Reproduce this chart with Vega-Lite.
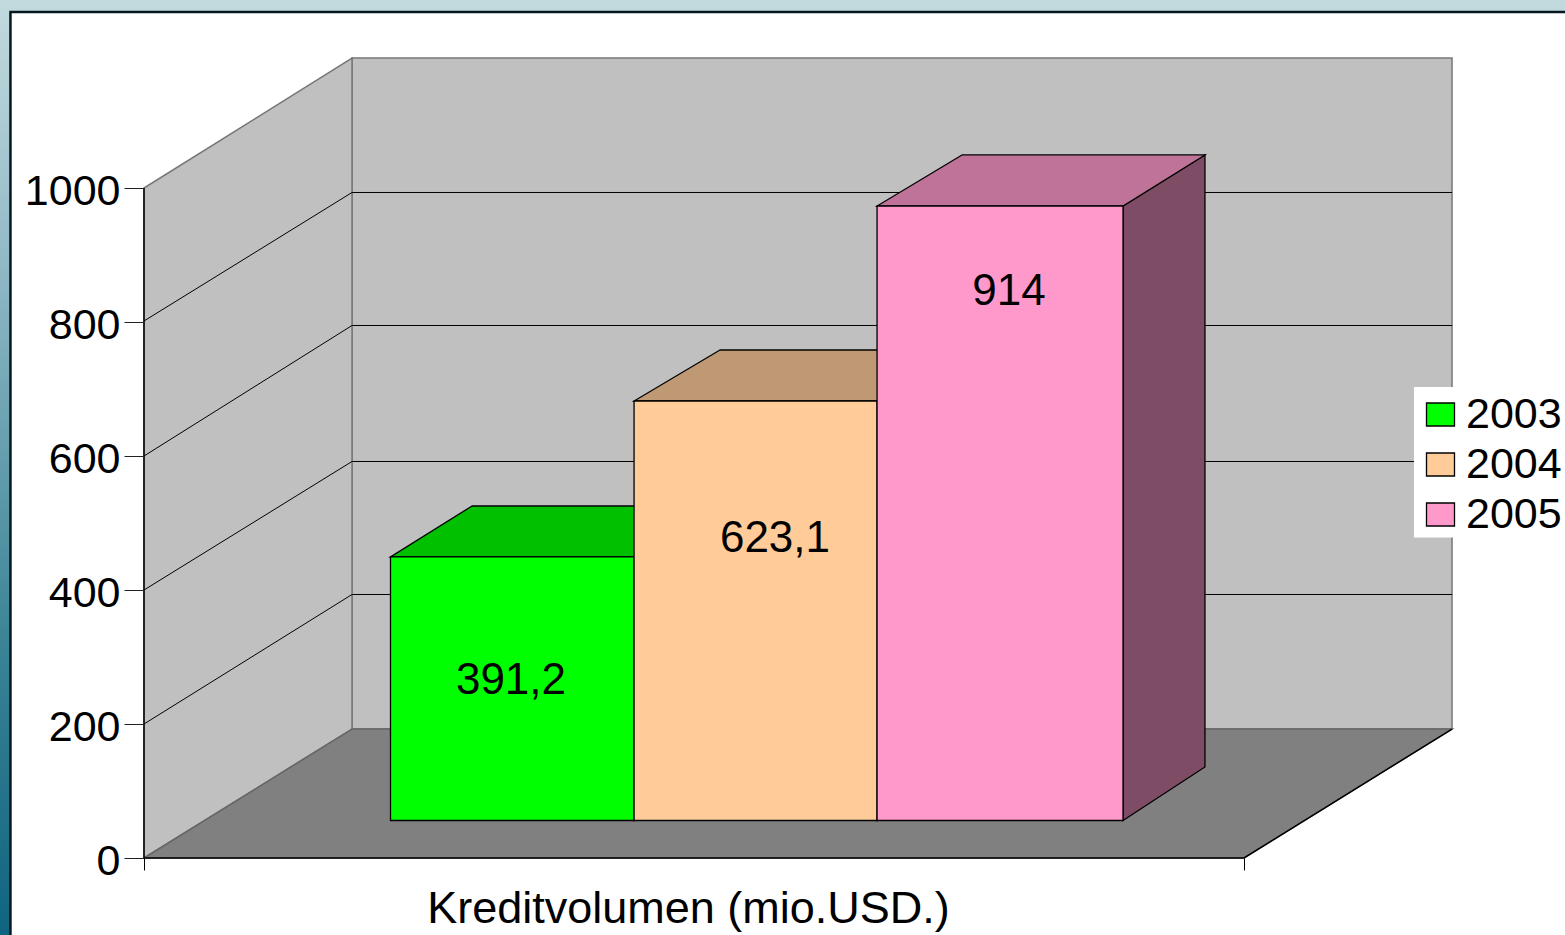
{
"$schema":"https://vega.github.io/schema/vega-lite/v6.json",
"width":1421,"height":858,
"autosize":"none",
"padding":{"left":144,"top":0,"right":0,"bottom":77},
"background":"white",
"config":{"view":{"stroke":null},"font":"Liberation Sans"},
"datasets":{
"page":[{"x":-13.09,"x2":129.18,"y":-114.9,"y2":1280.6}],
"frame":[{"x":-12.14,"x2":131,"y":-118,"y2":1262.7}],
"backwall":[{"x":18.91,"x2":118.91,"y":192.5,"y2":1194}],
"leftwall":[{"x":0,"y":0,"y2":1000},{"x":18.91,"y":192.5,"y2":1194}],
"floor":[{"y":0,"x":0,"x2":100},{"y":192.5,"x":18.91,"x2":118.91}],
"legendbox":[{"x":115.45,"x2":129.18,"y":478.2,"y2":702.99}],
"grid":[
{"g":200,"x":0,"y":200},{"g":200,"x":18.91,"y":393.3},{"g":200,"x":118.91,"y":393.3},
{"g":400,"x":0,"y":400},{"g":400,"x":18.91,"y":591.8},{"g":400,"x":118.91,"y":591.8},
{"g":600,"x":0,"y":600},{"g":600,"x":18.91,"y":794.8},{"g":600,"x":118.91,"y":794.8},
{"g":800,"x":0,"y":801.5},{"g":800,"x":18.91,"y":993.3},{"g":800,"x":118.91,"y":993.3}],
"edges":[
{"e":"left","x":0,"y":0},{"e":"left","x":0,"y":1000},
{"e":"front","x":0,"y":0},{"e":"front","x":100,"y":0},{"e":"front","x":118.91,"y":192.5}],
"sides":[
{"face":"2003 side","x":44.55,"y":55.97,"y2":449.3},{"face":"2003 side","x":52,"y":135.8,"y2":525.4},
{"face":"2004 side","x":66.64,"y":55.97,"y2":682.1},{"face":"2004 side","x":74.18,"y":135.8,"y2":758.2},
{"face":"2005 side","x":89,"y":55.97,"y2":973.1},{"face":"2005 side","x":96.45,"y":135.8,"y2":1049.3}],
"tops":[
{"face":"2003 top","y":449.3,"x":22.41,"x2":44.55},{"face":"2003 top","y":525.4,"x":29.82,"x2":52},
{"face":"2004 top","y":682.1,"x":44.55,"x2":66.64},{"face":"2004 top","y":758.2,"x":52.36,"x2":74.18},
{"face":"2005 top","y":973.1,"x":66.64,"x2":89},{"face":"2005 top","y":1049.3,"x":74.36,"x2":96.45}],
"fronts":[
{"face":"2003","value":391.2,"x":22.41,"x2":44.55,"y":55.97,"y2":449.3},
{"face":"2004","value":623.1,"x":44.55,"x2":66.64,"y":55.97,"y2":682.1},
{"face":"2005","value":914,"x":66.64,"x2":89,"y":55.97,"y2":973.1}],
"labels":[
{"label":"391,2","x":33.36,"y":264.2},
{"label":"623,1","x":57.36,"y":476.1},
{"label":"914","x":78.64,"y":844.8}]
},
"layer":[
{"data":{"name":"page"},
 "mark":{"type":"rect","fill":{"gradient":"linear","x1":0,"y1":0,"x2":0,"y2":1,"stops":[{"offset":0,"color":"#c2dade"},{"offset":0.257,"color":"#96bcc9"},{"offset":0.684,"color":"#3a8496"},{"offset":1,"color":"#0f6480"}]}},
 "encoding":{
  "x":{"field":"x","type":"quantitative","scale":{"domain":[0,129.18],"nice":false,"zero":false},
   "axis":{"values":[0,100],"labels":false,"domain":false,"grid":false,"tickSize":12,"tickColor":"black","zindex":1,
    "title":"Kreditvolumen (mio.USD.)","titleFont":"Liberation Sans","titleFontSize":45,"titleFontWeight":"normal","titleColor":"black","titleAlign":"center","titleBaseline":"middle","titleX":544,"titleY":50}},
  "x2":{"field":"x2"},
  "y":{"field":"y","type":"quantitative","scale":{"domain":[0,1280.6],"nice":false,"zero":false},
   "axis":{"values":[0,200,400,600,800,1000],"domain":false,"grid":false,"tickSize":20,"tickColor":"#222222","zindex":1,"title":null,
    "labelFont":"Liberation Sans","labelFontSize":43,"labelColor":"black","labelPadding":4,"labelOffset":3,"format":"d","labelOverlap":false,"labelBound":false,"labelFlush":false}},
  "y2":{"field":"y2"}}},
{"data":{"name":"frame"},
 "mark":{"type":"rect","fill":"white","stroke":"#06181f","strokeWidth":2.5},
 "encoding":{"x":{"field":"x","type":"quantitative"},"x2":{"field":"x2"},"y":{"field":"y","type":"quantitative"},"y2":{"field":"y2"}}},
{"data":{"name":"backwall"},
 "mark":{"type":"rect","fill":"#c0c0c0","stroke":"#777777","strokeWidth":1.5},
 "encoding":{"x":{"field":"x","type":"quantitative"},"x2":{"field":"x2"},"y":{"field":"y","type":"quantitative"},"y2":{"field":"y2"}}},
{"data":{"name":"leftwall"},
 "mark":{"type":"area","fill":"#c0c0c0","stroke":"#777777","strokeWidth":1.5,"orient":"vertical"},
 "encoding":{"x":{"field":"x","type":"quantitative"},"y":{"field":"y","type":"quantitative","stack":null},"y2":{"field":"y2"}}},
{"data":{"name":"floor"},
 "mark":{"type":"area","fill":"#808080","stroke":"#666666","strokeWidth":1.5,"orient":"horizontal"},
 "encoding":{"x":{"field":"x","type":"quantitative","stack":null},"x2":{"field":"x2"},"y":{"field":"y","type":"quantitative"}}},
{"data":{"name":"grid"},
 "mark":{"type":"line","stroke":"black","strokeWidth":1},
 "encoding":{"x":{"field":"x","type":"quantitative"},"y":{"field":"y","type":"quantitative"},"detail":{"field":"g"}}},
{"data":{"name":"edges"},
 "mark":{"type":"line","stroke":"black","strokeWidth":1.5},
 "encoding":{"x":{"field":"x","type":"quantitative"},"y":{"field":"y","type":"quantitative"},"detail":{"field":"e"}}},
{"data":{"name":"legendbox"},
 "mark":{"type":"rect","fill":"white"},
 "encoding":{"x":{"field":"x","type":"quantitative"},"x2":{"field":"x2"},"y":{"field":"y","type":"quantitative"},"y2":{"field":"y2"}}},
{"data":{"name":"sides"},
 "mark":{"type":"area","stroke":"black","strokeWidth":1.3,"orient":"vertical","opacity":1},
 "encoding":{"x":{"field":"x","type":"quantitative"},"y":{"field":"y","type":"quantitative","stack":null},"y2":{"field":"y2"},
  "color":{"field":"face","type":"nominal","scale":{"domain":["2003","2004","2005","2003 top","2004 top","2005 top","2003 side","2004 side","2005 side"],"range":["#00ff00","#ffcc99","#ff99cc","#00c000","#bf9973","#bf7399","#008000","#7f664c","#7f4c66"]},
   "legend":{"values":["2003","2004","2005"],"title":null,"orient":"none","legendX":1275,"legendY":393,"padding":0,"symbolType":"M-1,-0.82H1V0.82H-1Z","symbolSize":784,"symbolStrokeColor":"black","symbolStrokeWidth":1.3,"symbolOpacity":1,"labelFont":"Liberation Sans","labelFontSize":43,"labelColor":"black","labelOffset":4,"labelLimit":200,"rowPadding":6}}}},
{"data":{"name":"tops"},
 "mark":{"type":"area","stroke":"black","strokeWidth":1.3,"orient":"horizontal","opacity":1},
 "encoding":{"x":{"field":"x","type":"quantitative","stack":null},"x2":{"field":"x2"},"y":{"field":"y","type":"quantitative"},"color":{"field":"face","type":"nominal"}}},
{"data":{"name":"fronts"},
 "mark":{"type":"rect","stroke":"black","strokeWidth":1.3,"opacity":1},
 "encoding":{"x":{"field":"x","type":"quantitative"},"x2":{"field":"x2"},"y":{"field":"y","type":"quantitative"},"y2":{"field":"y2"},"color":{"field":"face","type":"nominal"}}},
{"data":{"name":"labels"},
 "mark":{"type":"text","font":"Liberation Sans","fontSize":44,"fill":"black","align":"center","baseline":"middle"},
 "encoding":{"x":{"field":"x","type":"quantitative"},"y":{"field":"y","type":"quantitative"},"text":{"field":"label","type":"nominal"}}}
]
}
